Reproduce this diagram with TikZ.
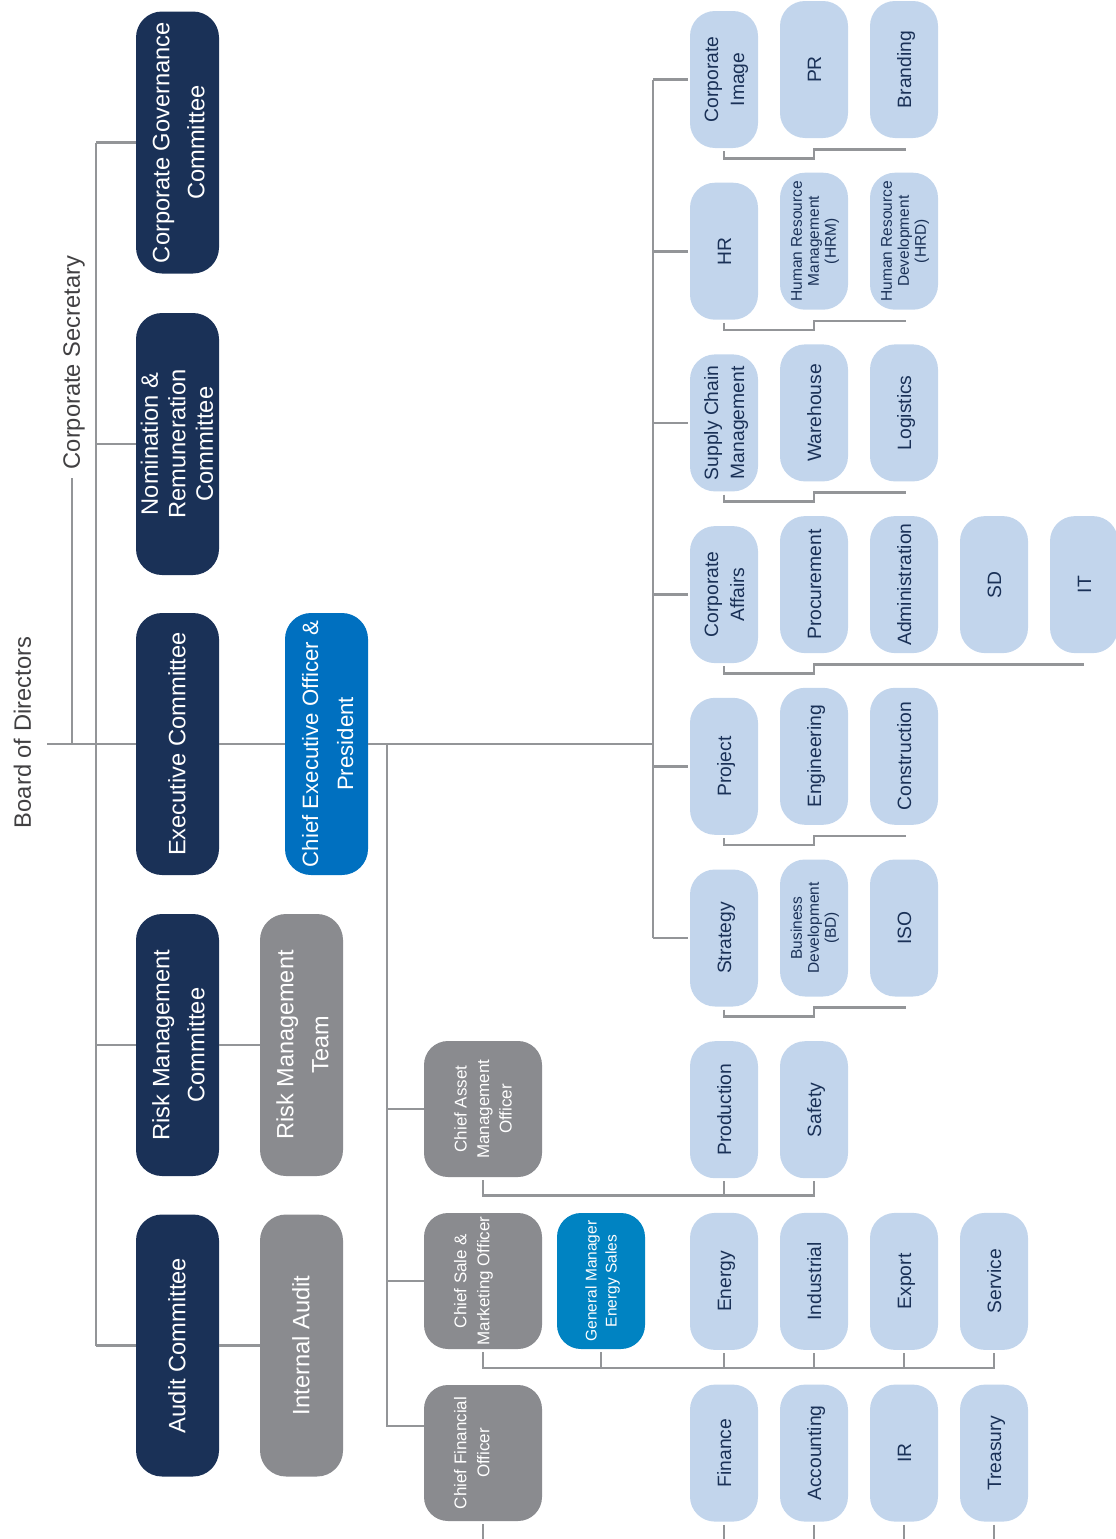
\documentclass[tikz,border=0pt]{standalone}
\usepackage{fontspec}
\setmainfont{Liberation Sans}
\usepackage{graphicx}
\usetikzlibrary{calc}
\definecolor{navy}{HTML}{1A3157}
\definecolor{ceoblue}{HTML}{0070C0}
\definecolor{gmblue}{HTML}{0083C2}
\definecolor{boxgray}{HTML}{8A8B8F}
\definecolor{lightblue}{HTML}{C2D5EC}
\definecolor{linegray}{HTML}{939598}
\definecolor{textgray}{HTML}{414042}
\newcommand\vt[3]{\rotatebox{90}{\fontsize{#1pt}{#2pt}\selectfont\raisebox{0pt}[\dimexpr\height+0.1em\relax][\dimexpr\depth-0.1em\relax]{\begin{tabular}{@{}c@{}}#3\end{tabular}}}}
\begin{document}
\begin{tikzpicture}[x=1pt,y=-1pt,
  conn/.style={draw=linegray, line width=2.6pt},
  bigbox/.style={text=white, rounded corners=26pt, minimum width=83pt, minimum height=262pt, inner sep=0pt},
  navybox/.style={bigbox, fill=navy},
  cxo/.style={fill=boxgray, text=white, rounded corners=24pt, minimum width=118pt, minimum height=136pt, inner sep=0pt},
  lbox/.style={fill=lightblue, text=navy, rounded corners=25pt, minimum width=68pt, minimum height=137pt, inner sep=0pt},
  plain/.style={text=textgray, inner sep=0pt}]
\useasboundingbox (0,0) rectangle (1116,1539);
\clip (0,0) rectangle (1116,1539);

% ---------- titles ----------
\node[plain] (bod) at (23,732.5) {\vt{23.7}{28}{Board of Directors}};
\node[plain] (cs) at (72,362.5) {\vt{23.7}{28}{Corporate Secretary}};
\coordinate (bodl) at (47,744);
\coordinate (cb) at (96,744);
\coordinate (lb) at (387,744);
\coordinate (rb) at (653,744);

% ---------- committees ----------
\node[navybox] (cgc) at (177.5,142.5) {\vt{23.7}{35}{Corporate Governance\\Committee}};
\node[navybox] (nrc) at (177.5,444) {\vt{23.7}{27.5}{Nomination \&\\Remuneration\\Committee}};
\node[navybox] (exc) at (177.5,744) {\vt{23.7}{28}{Executive Committee}};
\node[navybox] (rmc) at (177.5,1045) {\vt{23.7}{35}{Risk Management\\Committee}};
\node[navybox] (auc) at (177.5,1345.5) {\vt{23.7}{28}{Audit Committee}};
\node[bigbox, fill=ceoblue] (ceo) at (326.5,744) {\vt{22.2}{35}{Chief Executive Officer \&\\President}};
\node[bigbox, fill=boxgray] (rmt) at (301.5,1045) {\vt{23.5}{35}{Risk Management\\Team}};
\node[bigbox, fill=boxgray] (ia) at (301.5,1345.5) {\vt{23.7}{28}{Internal Audit}};

% ---------- chief officers ----------
\node[cxo] (camo) at (483,1109) {\vt{17}{22.5}{Chief Asset\\Management\\Officer}};
\node[cxo] (csmo) at (483,1281) {\vt{17}{23}{Chief Sale \&\\Marketing Officer\\\mbox{}}};
\node[cxo] (cfo) at (483,1453) {\vt{17}{23}{Chief Financial\\Officer\\\mbox{}}};
\node[cxo, fill=gmblue, minimum width=88pt] (gm) at (601,1281) {\vt{15.5}{20}{General Manager\\Energy Sales}};

% ---------- departments ----------
\node[lbox] (ci)  at (724,79.5)  {\vt{19.3}{26}{Corporate\\Image}};
\node[lbox] (pr)  at (814,69.5)  {\vt{19.3}{26}{PR}};
\node[lbox] (br)  at (904,69.5)  {\vt{19.3}{26}{Branding}};

\node[lbox] (hr)  at (724,251.2) {\vt{19.3}{26}{HR}};
\node[lbox] (hrm) at (814,241.2) {\vt{15.5}{17}{Human Resource\\Management\\(HRM)}};
\node[lbox] (hrd) at (904,241.2) {\vt{15.5}{17}{Human Resource\\Development\\(HRD)}};

\node[lbox] (scm) at (724,422.9) {\vt{19.3}{26}{Supply Chain\\Management}};
\node[lbox] (wh)  at (814,412.9) {\vt{19.3}{26}{Warehouse}};
\node[lbox] (lg)  at (904,412.9) {\vt{19.3}{26}{Logistics}};

\node[lbox] (ca)   at (724,594.6)  {\vt{19.3}{26}{Corporate\\Affairs}};
\node[lbox] (proc) at (814,584.6)  {\vt{19.3}{26}{Procurement}};
\node[lbox] (adm)  at (904,584.6)  {\vt{19.3}{26}{Administration}};
\node[lbox] (sd)   at (994,584.6)  {\vt{19.3}{26}{SD}};
\node[lbox] (it)   at (1084,584.6) {\vt{19.3}{26}{IT}};

\node[lbox] (proj) at (724,766.3) {\vt{19.3}{26}{Project}};
\node[lbox] (eng)  at (814,756.3) {\vt{19.3}{26}{Engineering}};
\node[lbox] (con)  at (904,756.3) {\vt{19.3}{26}{Construction}};

\node[lbox] (str) at (724,938) {\vt{19.3}{26}{Strategy}};
\node[lbox] (bd)  at (814,928) {\vt{15.5}{17}{Business\\Development\\(BD)}};
\node[lbox] (iso) at (904,928) {\vt{19.3}{26}{ISO}};

\node[lbox] (prod) at (724,1109.7) {\vt{19.3}{26}{Production}};
\node[lbox] (saf)  at (814,1109.7) {\vt{19.3}{26}{Safety}};

\node[lbox] (en)  at (724,1281.4) {\vt{19.3}{26}{Energy}};
\node[lbox] (ind) at (814,1281.4) {\vt{19.3}{26}{Industrial}};
\node[lbox] (exp) at (904,1281.4) {\vt{19.3}{26}{Export}};
\node[lbox] (ser) at (994,1281.4) {\vt{19.3}{26}{Service}};

\node[lbox] (fin) at (724,1453.1) {\vt{19.3}{26}{Finance}};
\node[lbox] (acc) at (814,1453.1) {\vt{19.3}{26}{Accounting}};
\node[lbox] (ir)  at (904,1453.1) {\vt{19.3}{26}{IR}};
\node[lbox] (tre) at (994,1453.1) {\vt{19.3}{26}{Treasury}};

% ---------- board connectors ----------
\draw[conn] (bodl) -- (exc.west);
\draw[conn] ($(cs.south)+(0,9)$) -- (cs.south |- bodl);
\draw[conn] (cb |- cgc.west) -- (cb |- auc.west);
\foreach \n in {cgc,nrc,rmc,auc} \draw[conn] (cb |- \n.west) -- (\n.west);
\draw[conn] (exc.east) -- (ceo.west);
\draw[conn] (rmc.east) -- (rmt.west);
\draw[conn] (auc.east) -- (ia.west);

% ---------- CEO connectors ----------
\draw[conn] (ceo.east) -- (rb);
\draw[conn] (lb) |- ($(cfo.west)+(0,-27)$);
\draw[conn] (lb |- camo.west) -- (camo.west);
\draw[conn] (lb |- csmo.west) -- (csmo.west);

% ---------- right bus ----------
\draw[conn] (rb |- ci.west) -- (rb |- str.west);
\foreach \n in {ci,hr,scm,ca,proj,str} \draw[conn] (rb |- \n.west) -- ([xshift=-2pt]\n.west);

% ---------- group lines ----------
\draw[conn] ($(ci.south)+(0,3)$) -- ($(ci.south)+(0,10)$) -| ($(pr.south)+(0,11)$) -- ($(br.south)+(2,11)$);
\draw[conn] ($(hr.south)+(0,3)$) -- ($(hr.south)+(0,10)$) -| ($(hrm.south)+(0,11)$) -- ($(hrd.south)+(2,11)$);
\draw[conn] ($(scm.south)+(0,3)$) -- ($(scm.south)+(0,10)$) -| ($(wh.south)+(0,11)$) -- ($(lg.south)+(2,11)$);
\draw[conn] ($(ca.south)+(0,3)$) -- ($(ca.south)+(0,10)$) -| ($(proc.south)+(0,11)$) -- ($(it.south)+(0,11)$);
\draw[conn] ($(proj.south)+(0,3)$) -- ($(proj.south)+(0,10)$) -| ($(eng.south)+(0,11)$) -- ($(con.south)+(2,11)$);
\draw[conn] ($(str.south)+(0,3)$) -- ($(str.south)+(0,10)$) -| ($(bd.south)+(0,11)$) -- ($(iso.south)+(2,11)$);

% asset management
\draw[conn] ($(camo.south)+(0,3)$) |- ($(saf.south)+(0,17)$) -- ($(saf.south)+(0,3)$);
\draw[conn] ($(prod.south)+(0,3)$) -- ($(prod.south)+(0,17)$);
% sales
\draw[conn] ($(csmo.south)+(0,3)$) |- ($(ser.south)+(0,18)$) -- ($(ser.south)+(0,3)$);
\foreach \n in {gm,en,ind,exp} \draw[conn] ($(\n.south)+(0,3)$) -- ($(\n.south)+(0,18)$);
% finance
\foreach \n in {cfo,fin,acc,ir,tre} \draw[conn] ($(\n.south)+(0,3)$) -- ($(\n.south)+(0,30)$);
\end{tikzpicture}
\end{document}
